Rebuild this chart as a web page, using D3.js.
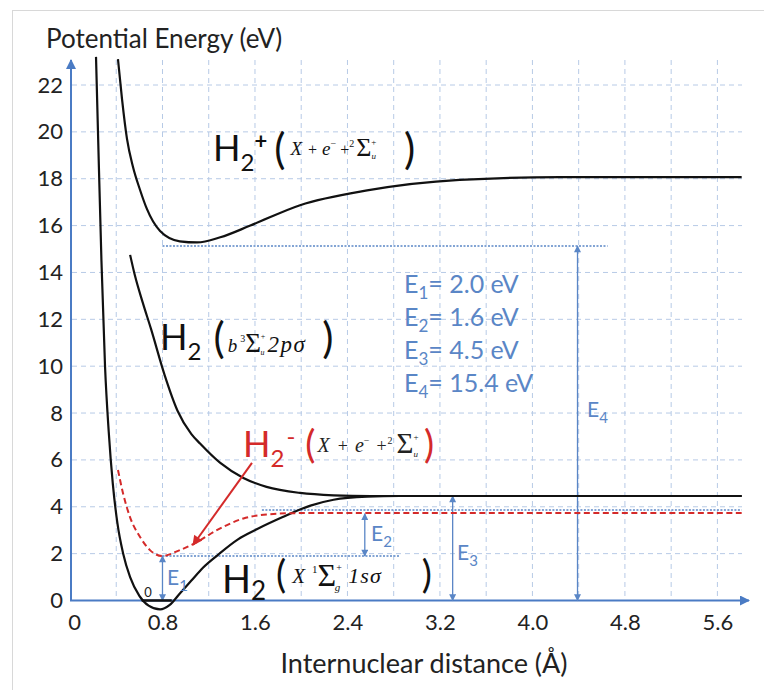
<!DOCTYPE html>
<html><head><meta charset="utf-8">
<script src="https://cdn.jsdelivr.net/npm/d3@7"></script>
<style>body{margin:0;background:#fff} svg{display:block}</style>
</head><body><svg id="c" width="764" height="690"></svg>
<script>
// ---------------- data ----------------
const xTicks = [0, 0.8, 1.6, 2.4, 3.2, 4.0, 4.8, 5.6];
const xTickLabels = ["0", "0.8", "1.6", "2.4", "3.2", "4.0", "4.8", "5.6"];
const yTicks = [0, 2, 4, 6, 8, 10, 12, 14, 16, 18, 20, 22];
const xGrid = [0.4, 0.8, 1.2, 1.6, 2.0, 2.4, 2.8, 3.2, 3.6, 4.0, 4.4, 4.8, 5.2, 5.6];
const yGrid = [2, 4, 6, 8, 10, 12, 14, 16, 18, 20, 22];

// H2 ground state X 1Σg+ 1sσ  [r (Å), E (eV)]
const groundState = [[0.225,23.2],[0.242,20],[0.272,14.5],[0.303,10],[0.335,7.2],[0.37,5.0],
  [0.41,3.3],[0.46,2.0],[0.52,1.0],[0.60,0.2],[0.68,-0.22],[0.78,-0.38],[0.86,-0.2],
  [0.95,0.3],[1.05,0.85],[1.15,1.4],[1.28,1.95],[1.45,2.6],[1.62,3.05],[1.84,3.56],
  [2.08,4.05],[2.28,4.3],[2.57,4.43],[2.85,4.46],[5.81,4.46]];
// H2 b 3Σu+ 2pσ repulsive state
const bState = [[0.52,14.75],[0.56,13.9],[0.63,12.7],[0.70,11.6],[0.82,9.6],[0.93,8.1],
  [1.05,7.1],[1.125,6.7],[1.30,5.87],[1.50,5.23],[1.70,4.85],[1.99,4.59],[2.28,4.49],
  [2.6,4.46],[5.81,4.46]];
// H2+ (X + e- + 2Σu+)
const ionState = [[0.415,23.1],[0.45,21.4],[0.493,19.7],[0.545,18.5],[0.606,17.52],[0.666,16.7],
  [0.779,15.77],[0.95,15.33],[1.10,15.28],[1.30,15.5],[1.56,16.0],[1.99,16.87],[2.57,17.5],
  [3.37,17.95],[4.24,18.07],[5.81,18.07]];
// H2- (X + e- + 2Σu+) dashed
const anionState = [[0.415,5.57],[0.458,4.59],[0.519,3.56],[0.606,2.71],[0.692,2.15],[0.796,1.9],
  [0.95,2.15],[1.10,2.5],[1.27,3.0],[1.50,3.5],[1.70,3.67],[1.99,3.73],[5.81,3.73]];
const zeroLevel = [[0.62, 0], [0.88, 0]];

// dotted reference levels
const refLines = [
  {r0: 0.8, r1: 2.85, e: 1.9},
  {r0: 1.66, r1: 5.81, e: 3.86},
  {r0: 0.8, r1: 4.65, e: 15.13}
];
// double-headed energy arrows
const energyArrows = [
  {name: "E", sub: "1", r: 0.8, e0: 0, e1: 1.9},
  {name: "E", sub: "2", r: 2.55, e0: 1.9, e1: 3.7},
  {name: "E", sub: "3", r: 3.31, e0: 0, e1: 4.46},
  {name: "E", sub: "4", r: 4.39, e0: 0, e1: 15.13}
];
const energyValues = [
  {sub: "1", text: "= 2.0 eV"},
  {sub: "2", text: "= 1.6 eV"},
  {sub: "3", text: "= 4.5 eV"},
  {sub: "4", text: "= 15.4 eV"}
];
const pointerArrow = {r0: 1.574, e0: 5.87, r1: 1.064, e1: 2.37};

// ---------------- drawing ----------------
const SANS = "Lato, 'Open Sans', sans-serif";
const SERIF = "'Liberation Serif', 'DejaVu Serif', serif";
const AXIS = "#4A7BC4", GRID = "#B7CAE6", TXTBLUE = "#5A86C6", RED = "#D42A2A";

const svg = d3.select("#c");
const x = d3.scaleLinear().domain([0, 5.6]).range([70, 717.4]);
const y = d3.scaleLinear().domain([0, 22]).range([600.5, 85]);

svg.append("rect").attr("x", 12.5).attr("y", 10.5).attr("width", 800).attr("height", 800)
  .attr("fill", "#fff").attr("stroke", "#d8d8d8");

const defs = svg.append("defs");
function marker(id, color, w, h) {
  defs.append("marker").attr("id", id).attr("viewBox", "0 0 10 10")
    .attr("refX", 9).attr("refY", 5).attr("markerWidth", w).attr("markerHeight", h)
    .attr("markerUnits", "userSpaceOnUse").attr("orient", "auto-start-reverse")
    .append("path").attr("d", "M0,0 L10,5 L0,10 z").attr("fill", color);
}
marker("axArrow", AXIS, 12, 10);
marker("eArrow", TXTBLUE, 9, 7);
marker("redArrow", RED, 12, 10);

// grid
const grid = svg.append("g");
grid.selectAll(".vg").data(xGrid).join("line")
  .attr("x1", d => x(d)).attr("x2", d => x(d)).attr("y1", 60).attr("y2", 600)
  .attr("stroke", GRID).attr("stroke-width", 1).attr("stroke-dasharray", "5,4");
grid.selectAll(".hg").data(yGrid).join("line")
  .attr("x1", 72).attr("x2", 742).attr("y1", d => y(d)).attr("y2", d => y(d))
  .attr("stroke", GRID).attr("stroke-width", 1).attr("stroke-dasharray", "5,4");

// axes ticks
const yAxis = svg.append("g").attr("transform", "translate(71,0)")
  .call(d3.axisLeft(y).tickValues(yTicks).tickSize(0).tickPadding(8));
yAxis.select(".domain").remove();
yAxis.selectAll("text").attr("font-family", SANS).attr("font-size", 22).attr("fill", "#222");

const xAxis = svg.append("g").attr("transform", "translate(0,600.5)")
  .call(d3.axisBottom(x).tickValues(xTicks).tickSize(0).tickPadding(14)
    .tickFormat((d, i) => xTickLabels[i]));
xAxis.select(".domain").remove();
xAxis.selectAll("text").attr("font-family", SANS).attr("font-size", 22).attr("fill", "#222")
  .attr("dx", (d, i) => i === 0 ? 4 : 0);

// axis lines
svg.append("line").attr("x1", 71).attr("x2", 71).attr("y1", 601).attr("y2", 60)
  .attr("stroke", AXIS).attr("stroke-width", 2).attr("marker-end", "url(#axArrow)");
svg.append("line").attr("x1", 70).attr("x2", 749).attr("y1", 600.5).attr("y2", 600.5)
  .attr("stroke", AXIS).attr("stroke-width", 2).attr("marker-end", "url(#axArrow)");

// axis titles
svg.append("text").attr("x", 46).attr("y", 48).text("Potential Energy (eV)")
  .attr("font-family", SANS).attr("font-size", 26).attr("fill", "#222");
svg.append("text").attr("x", 424).attr("y", 673).attr("text-anchor", "middle")
  .text("Internuclear distance (Å)")
  .attr("font-family", SANS).attr("font-size", 27).attr("fill", "#222");

// reference dotted lines
svg.selectAll(".ref").data(refLines).join("line")
  .attr("x1", d => x(d.r0)).attr("x2", d => x(d.r1)).attr("y1", d => y(d.e)).attr("y2", d => y(d.e))
  .attr("stroke", TXTBLUE).attr("stroke-width", 1.5).attr("stroke-dasharray", "2,1.5");

// energy arrows
svg.selectAll(".ea").data(energyArrows).join("line")
  .attr("x1", d => x(d.r)).attr("x2", d => x(d.r)).attr("y1", d => y(d.e0)).attr("y2", d => y(d.e1))
  .attr("stroke", TXTBLUE).attr("stroke-width", 1.3)
  .attr("marker-start", "url(#eArrow)").attr("marker-end", "url(#eArrow)");

// curves
const line = d3.line().x(d => x(d[0])).y(d => y(d[1])).curve(d3.curveMonotoneX);
[groundState, bState, ionState].forEach(c => {
  svg.append("path").attr("d", line(c)).attr("fill", "none")
    .attr("stroke", "#111").attr("stroke-width", 2.2);
});
svg.append("path").attr("d", line(anionState)).attr("fill", "none")
  .attr("stroke", RED).attr("stroke-width", 2).attr("stroke-dasharray", "6,3.5");
svg.append("path").attr("d", d3.line().x(d => x(d[0])).y(d => y(d[1]))(zeroLevel))
  .attr("stroke", "#111").attr("stroke-width", 2.5);

// pointer arrow
svg.append("line").attr("x1", x(pointerArrow.r0)).attr("y1", y(pointerArrow.e0))
  .attr("x2", x(pointerArrow.r1)).attr("y2", y(pointerArrow.e1))
  .attr("stroke", RED).attr("stroke-width", 2).attr("marker-end", "url(#redArrow)");

// rich text helper
function rich(px, py, parts, fill) {
  const t = svg.append("text").attr("x", px).attr("y", py).attr("fill", fill);
  let cur = 0;
  parts.forEach(p => {
    const b = p.b || 0;
    const ts = t.append("tspan").text(p.t)
      .attr("font-size", p.fs).attr("font-family", p.ff || SANS)
      .attr("dy", b - cur);
    if (p.it) ts.attr("font-style", "italic");
    if (p.fw) ts.attr("font-weight", p.fw);
    if (p.dx) ts.attr("dx", p.dx);
    if (p.fill) ts.attr("fill", p.fill);
    if (p.ls) ts.attr("letter-spacing", p.ls);
    cur = b;
  });
  return t;
}

// H2+ label
rich(213, 161, [
  {t: "H", fs: 36}, {t: "2", fs: 24, b: 10}, {t: "+", fs: 22, fw: 700, b: -12},
  {t: "(", fs: 42, b: 3, dx: 7},
  {t: "X", ff: SERIF, it: 1, fs: 19, b: -6, dx: 5},
  {t: "+", ff: SERIF, fs: 16, b: -6, dx: 6},
  {t: "e", ff: SERIF, it: 1, fs: 19, b: -6, dx: 5},
  {t: "−", ff: SERIF, fs: 10, b: -14}, {t: "+", ff: SERIF, fs: 16, b: -6, dx: 4},
  {t: "2", ff: SERIF, fs: 10, b: -14}, {t: "Σ", ff: SERIF, fs: 26, b: -5, dx: 2},
  {t: "+", ff: SERIF, fs: 9, b: -16}, {t: "u", ff: SERIF, it: 1, fs: 9, b: -2, dx: -5},
  {t: ")", fs: 42, b: 3, dx: 28}
], "#111");

// H2 b-state label
rich(160, 350, [
  {t: "H", fs: 36}, {t: "2", fs: 24, b: 10},
  {t: "(", fs: 42, b: 3, dx: 12},
  {t: "b", ff: SERIF, it: 1, fs: 19, b: 2, dx: 3},
  {t: "3", ff: SERIF, fs: 10, b: -8, dx: 3}, {t: "Σ", ff: SERIF, fs: 27, b: 2},
  {t: "+", ff: SERIF, fs: 8, b: -11}, {t: "u", ff: SERIF, it: 1, fs: 8, b: 5, dx: -5},
  {t: "2pσ", ff: SERIF, it: 1, fs: 23, b: 2, dx: 3, ls: 1.5},
  {t: ")", fs: 42, b: 3, dx: 16}
], "#111");

// H2- label
rich(243, 457, [
  {t: "H", fs: 36, fill: RED}, {t: "2", fs: 24, b: 10, fill: RED},
  {t: "-", fs: 24, b: -12, dx: 2, fill: RED},
  {t: "(", fs: 38, b: 1, dx: 10, fill: RED},
  {t: "X", ff: SERIF, it: 1, fs: 20, b: -5, dx: 2, fill: "#222"},
  {t: "+", ff: SERIF, fs: 18, b: -5, dx: 8, fill: "#222"},
  {t: "e", ff: SERIF, it: 1, fs: 20, b: -5, dx: 7, fill: "#222"},
  {t: "−", ff: SERIF, fs: 10, b: -13, fill: "#222"},
  {t: "+", ff: SERIF, fs: 18, b: -5, dx: 7, fill: "#222"},
  {t: "2", ff: SERIF, fs: 10, b: -13, dx: 1, fill: "#222"},
  {t: "Σ", ff: SERIF, fs: 29, b: -4, dx: 4, fill: "#222"},
  {t: "+", ff: SERIF, fs: 9, b: -17, fill: "#222"},
  {t: "u", ff: SERIF, it: 1, fs: 9, b: 0, dx: -5, fill: "#222"},
  {t: ")", fs: 38, b: 1, dx: 6, fill: RED}
], RED);

// H2 ground label
rich(222, 593, [
  {t: "H", fs: 38}, {t: "2", fs: 26, b: 7},
  {t: "(", fs: 38, b: -5, dx: 10},
  {t: "X", ff: SERIF, it: 1, fs: 21, b: -10, dx: 6},
  {t: "1", ff: SERIF, fs: 11, b: -20, dx: 7}, {t: "Σ", ff: SERIF, fs: 32, b: -7},
  {t: "+", ff: SERIF, fs: 10, b: -22}, {t: "g", ff: SERIF, it: 1, fs: 11, b: -2, dx: -7},
  {t: "1sσ", ff: SERIF, it: 1, fs: 22, b: -10, dx: 8, ls: 1},
  {t: ")", fs: 38, b: -5, dx: 40}
], "#111");

// energy value list
energyValues.forEach((d, i) => {
  rich(404, 293 + i * 33, [
    {t: "E", fs: 25}, {t: d.sub, fs: 17, b: 6}, {t: d.text, fs: 25, b: 0}
  ], TXTBLUE);
});

// arrow labels
const arrowLabelPos = [[167, 585], [371, 541], [457, 560], [587, 417]];
energyArrows.forEach((d, i) => {
  rich(arrowLabelPos[i][0], arrowLabelPos[i][1], [
    {t: d.name, fs: 21}, {t: d.sub, fs: 15, b: 6}
  ], TXTBLUE);
});

// zero-point label
svg.append("text").attr("x", 148).attr("y", 597).text("0").attr("text-anchor", "middle")
  .attr("font-family", SANS).attr("font-size", 13).attr("fill", "#222");
</script>
</body></html>
